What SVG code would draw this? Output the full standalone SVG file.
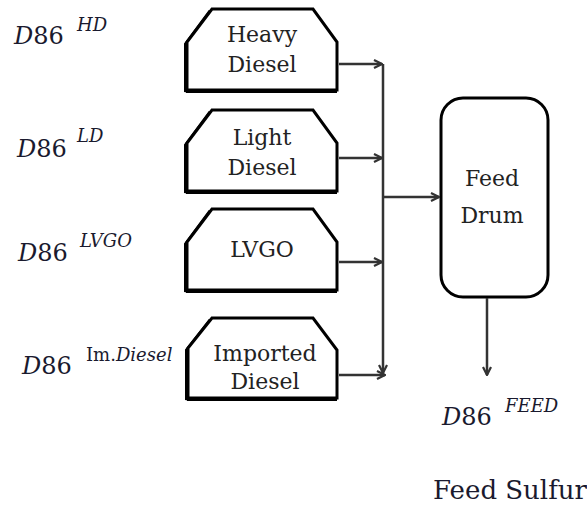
<svg xmlns="http://www.w3.org/2000/svg" width="587" height="508" viewBox="0 0 587 508">
<style>
text{font-family:"DejaVu Serif","Liberation Serif","Times New Roman",serif}
.box{fill:#fff;stroke:#000;stroke-width:3;stroke-linejoin:miter}
.shadow{fill:none;stroke:#000;stroke-width:3}
.lbl{font-size:22px;fill:#222;text-anchor:middle}
.var{font-size:24px;fill:#1a1a2e}
.sup{font-size:18px;font-style:italic;fill:#1a1a2e}
.conn{fill:none;stroke:#333;stroke-width:2.5}
</style>
<defs>
<marker id="arr" viewBox="0 0 10 10" refX="9" refY="5" markerWidth="10" markerHeight="10" markerUnits="userSpaceOnUse" orient="auto">
<path d="M1,1 L9,5 L1,9" fill="none" stroke="#333" stroke-width="2.2"/>
</marker>
</defs>
<g id="heavy-diesel">
<polygon class="shadow" points="185.5,92 185.5,44 210,11"/>
<polygon class="box" points="187,90 187,42 212,9 313,9 337,42 337,90"/>
<line x1="186" y1="91.5" x2="337" y2="91.5" stroke="#000" stroke-width="3"/>
<text class="lbl" x="262" y="42">Heavy</text>
<text class="lbl" x="262" y="72">Diesel</text>
</g>
<g id="light-diesel">
<polygon class="shadow" points="185.5,193 185.5,145 210,112"/>
<polygon class="box" points="187,191 187,143 212,110 313,110 337,143 337,191"/>
<line x1="186" y1="192.5" x2="337" y2="192.5" stroke="#000" stroke-width="3"/>
<text class="lbl" x="262" y="145">Light</text>
<text class="lbl" x="262" y="175">Diesel</text>
</g>
<g id="lvgo">
<polygon class="shadow" points="185.5,292 185.5,244 210,211"/>
<polygon class="box" points="187,290 187,242 212,209 313,209 337,242 337,290"/>
<line x1="186" y1="291.5" x2="337" y2="291.5" stroke="#000" stroke-width="3"/>
<text class="lbl" x="262" y="257" font-size="24">LVGO</text>
</g>
<g id="imported-diesel">
<polygon class="shadow" points="186.5,400 186.5,350 210,320"/>
<polygon class="box" points="188,398 188,348 212,318 313,318 337,350 337,398"/>
<line x1="187" y1="399.5" x2="337" y2="399.5" stroke="#000" stroke-width="3"/>
<text class="lbl" x="265" y="361">Imported</text>
<text class="lbl" x="265" y="389">Diesel</text>
</g>
<g id="feed-drum">
<rect x="441" y="98" width="107" height="199" rx="22" ry="22" fill="#fff" stroke="#000" stroke-width="3"/>
<text class="lbl" x="492" y="186">Feed</text>
<text class="lbl" x="492" y="223">Drum</text>
</g>
<g id="connectors">
<line class="conn" x1="339" y1="64" x2="382" y2="64" marker-end="url(#arr)"/>
<line class="conn" x1="339" y1="158" x2="382" y2="158" marker-end="url(#arr)"/>
<line class="conn" x1="339" y1="262" x2="382" y2="262" marker-end="url(#arr)"/>
<line class="conn" x1="339" y1="375" x2="385" y2="375" marker-end="url(#arr)"/>
<line class="conn" x1="383" y1="64" x2="383" y2="373" marker-end="url(#arr)"/>
<line class="conn" x1="383" y1="197" x2="439" y2="197" marker-end="url(#arr)"/>
<line class="conn" x1="487" y1="298" x2="487" y2="375" marker-end="url(#arr)"/>
</g>
<g id="labels">
<text class="var" x="14" y="44"><tspan font-style="italic">D</tspan>86</text>
<text class="sup" x="77" y="31">HD</text>
<text class="var" x="17" y="157"><tspan font-style="italic">D</tspan>86</text>
<text class="sup" x="77" y="142">LD</text>
<text class="var" x="18" y="261"><tspan font-style="italic">D</tspan>86</text>
<text class="sup" x="80" y="247">LVGO</text>
<text class="var" x="22" y="374"><tspan font-style="italic">D</tspan>86</text>
<text class="sup" x="86" y="361" font-size="17.5"><tspan font-style="normal">Im.</tspan>Diesel</text>
<text class="var" x="442" y="425"><tspan font-style="italic">D</tspan>86</text>
<text class="sup" x="505" y="412">FEED</text>
<text x="433" y="499" font-size="26" fill="#1a1a2e">Feed Sulfur</text>
</g>
</svg>
